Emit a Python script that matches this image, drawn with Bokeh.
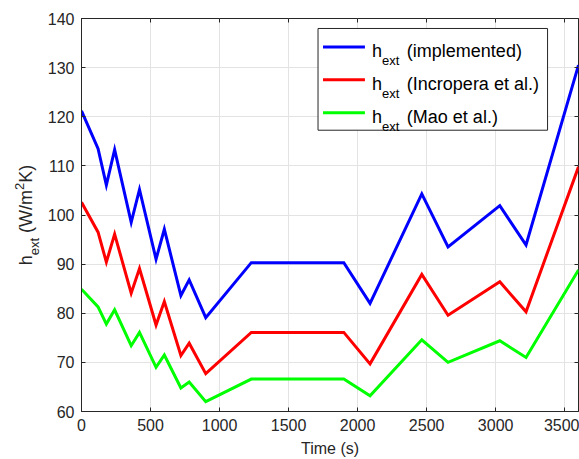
from bokeh.plotting import figure
from bokeh.layouts import row
from bokeh.models import (LinearAxis, Range1d, FixedTicker, Label, BoxAnnotation, Arrow, Div)
from bokeh.embed import file_html
from bokeh.resources import INLINE

# ---- data ----
time_s = [0, 120, 180, 240, 360, 420, 540, 600, 720, 780, 900, 1230, 1900, 2090,
          2465, 2655, 3030, 3220, 3600]
h_implemented = [121.2, 113.5, 106.1, 113.3, 98.5, 105.2, 91.0, 97.1, 83.6, 86.8, 79.1,
                 90.3, 90.3, 82.0, 104.3, 93.5, 101.9, 93.9, 130.5]
h_incropera = [102.6, 96.5, 90.4, 96.1, 84.1, 89.1, 77.6, 82.4, 71.4, 73.9, 67.7,
               76.1, 76.1, 69.7, 87.9, 79.6, 86.4, 80.3, 109.8]
h_mao = [84.9, 81.3, 77.8, 80.7, 73.4, 76.1, 69.0, 71.5, 64.8, 66.0, 62.0,
         66.6, 66.6, 63.2, 74.6, 70.0, 74.4, 71.0, 88.8]
series_names = ["(implemented)", "(Incropera et al.)", "(Mao et al.)"]
series_colors = ["#0000ff", "#ff0000", "#00ff00"]
x_ticks = [0, 500, 1000, 1500, 2000, 2500, 3000, 3500]
y_ticks = [60, 70, 80, 90, 100, 110, 120, 130, 140]
x_title = "Time (s)"
y_title_html = "h<sub>ext</sub> (W/m<sup>2</sup>K)"

FONT = "Liberation Sans"
DARK = "#262626"
W, H = 579, 459
LW = 44                     # strip holding the rotated y-axis title
L, R, T, B = 80, 1, 18, 47  # frame borders on the full canvas
XMIN, XMAX, YMIN, YMAX = 0, 3600, 60, 140

# ---- rotated y-axis title (HTML so that sub/superscripts are real text) ----
box_w = 220
ytitle = Div(width=LW, height=H, text=(
    f'<div style="position:absolute; left:17px; top:{215 + box_w // 2}px; width:{box_w}px; '
    f'height:18px; line-height:18px; text-align:center; white-space:nowrap; '
    f'transform-origin:0 0; transform:rotate(-90deg); font-family:\'{FONT}\'; '
    f'font-size:18px; color:{DARK};">'
    + y_title_html.replace("<sub>", '<sub style="font-size:13px; line-height:0; vertical-align:-7px;">')
                  .replace("<sup>", '<sup style="font-size:13px; line-height:0; vertical-align:8px;">')
    + '</div>'),
    styles={"position": "relative", "overflow": "visible", "margin": "0", "padding": "0"})

# ---- main plot ----
p = figure(width=W - LW, height=H, output_backend="svg", toolbar_location=None,
           x_range=Range1d(XMIN, XMAX), y_range=Range1d(YMIN, YMAX),
           min_border_left=L - LW, min_border_right=R, min_border_top=T, min_border_bottom=B)
p.background_fill_color = "white"
p.border_fill_color = "white"
p.outline_line_color = DARK
p.outline_line_width = 1

fw = W - L - R
fh = H - T - B
def dx(px):
    return XMIN + (px - L) / fw * (XMAX - XMIN)
def dy(py):
    return YMIN + (H - B - py) / fh * (YMAX - YMIN)

for ax in (p.xaxis[0], p.yaxis[0]):
    ax.major_tick_in = 4
    ax.major_tick_out = 0
    ax.minor_tick_line_color = None
    ax.axis_line_color = DARK
    ax.major_tick_line_color = DARK
    ax.major_label_text_color = DARK
    ax.major_label_text_font = FONT
    ax.major_label_text_font_size = "16px"
    ax.major_label_standoff = 7
p.xaxis[0].ticker = FixedTicker(ticks=x_ticks)
p.yaxis[0].ticker = FixedTicker(ticks=y_ticks)
p.xaxis[0].axis_label = x_title
p.xaxis[0].axis_label_text_font = FONT
p.xaxis[0].axis_label_text_font_style = "normal"
p.xaxis[0].axis_label_text_color = DARK
p.xaxis[0].axis_label_text_font_size = "16px"
p.xaxis[0].axis_label_standoff = 6

for loc, ticks in (("above", x_ticks), ("right", y_ticks)):
    a = LinearAxis(ticker=FixedTicker(ticks=ticks), major_tick_in=4, major_tick_out=0,
                   minor_tick_line_color=None, axis_line_color=None,
                   major_tick_line_color=DARK, major_label_text_font_size="1px",
                   major_label_text_color=None, major_label_standoff=0)
    p.add_layout(a, loc)

p.xgrid.ticker = FixedTicker(ticks=x_ticks)
p.ygrid.ticker = FixedTicker(ticks=y_ticks)
p.grid.grid_line_color = "#e3e3e3"
p.grid.grid_line_width = 1

for ys, c in zip([h_implemented, h_incropera, h_mao], series_colors):
    p.line(time_s, ys, line_color=c, line_width=3, line_join="miter")

# ---- legend ----
p.add_layout(BoxAnnotation(left=dx(317), right=dx(547), top=dy(28), bottom=dy(130),
                           fill_color="white", fill_alpha=1.0, line_color=DARK,
                           line_width=1, line_alpha=1.0))
rows = [46.5, 79.5, 112.5]
for ry, name, c in zip(rows, series_names, series_colors):
    p.add_layout(Arrow(end=None, x_start=dx(322), y_start=dy(ry), x_end=dx(364), y_end=dy(ry),
                       line_color=c, line_width=3))
    p.add_layout(Label(x=dx(371), y=dy(ry + 4.5), text="h", text_font=FONT,
                       text_font_size="18px", text_baseline="alphabetic", text_color="black"))
    p.add_layout(Label(x=dx(381), y=dy(ry + 13.5), text="ext", text_font=FONT,
                       text_font_size="13px", text_baseline="alphabetic", text_color="black"))
    p.add_layout(Label(x=dx(406), y=dy(ry + 4.5), text=name, text_font=FONT,
                       text_font_size="18px", text_baseline="alphabetic", text_color="black"))

layout = row(ytitle, p, spacing=0)
open("out.html", "w").write(file_html(layout, INLINE))
